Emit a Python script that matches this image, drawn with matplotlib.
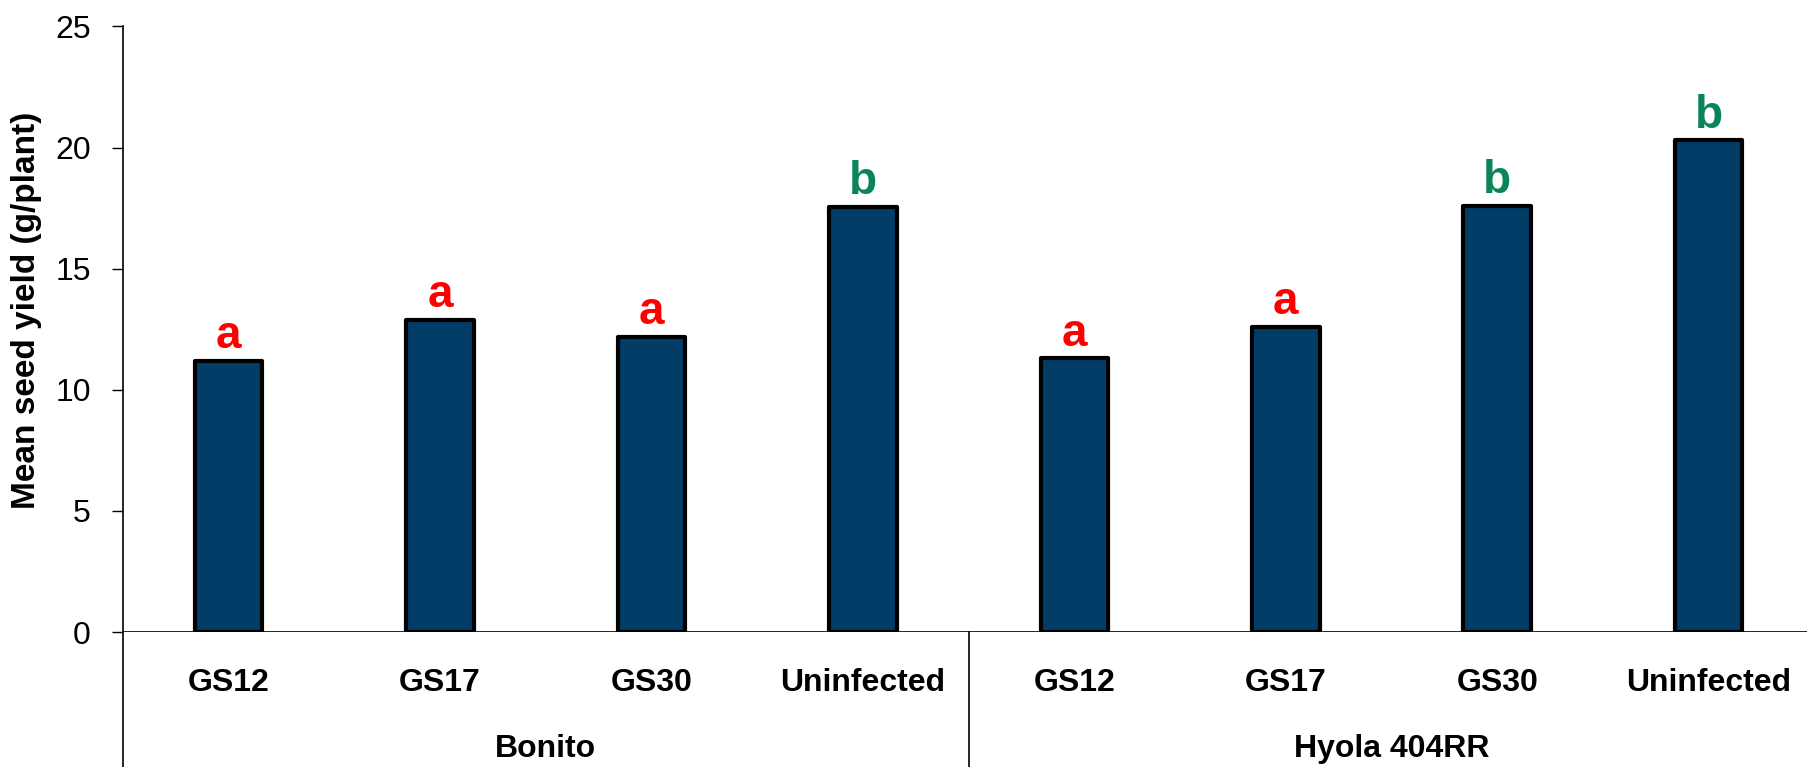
import matplotlib
matplotlib.use("Agg")
import matplotlib.pyplot as plt

# seed yield per treatment, two cultivars
cultivars = ["Bonito", "Hyola 404RR"]
treatments = ["GS12", "GS17", "GS30", "Uninfected"]
yield_bonito = [11.2, 12.9, 12.2, 17.55]
yield_hyola = [11.3, 12.6, 17.6, 20.3]
letters_bonito = ["a", "a", "a", "b"]
letters_hyola = ["a", "a", "b", "b"]

letter_colors = {"a": "#FF0000", "b": "#0B8457"}
bar_color = "#023D67"
narrow = ["Liberation Sans Narrow", "Liberation Sans", "DejaVu Sans"]

values = yield_bonito + yield_hyola
letters = letters_bonito + letters_hyola
labels = treatments * len(cultivars)
xs = list(range(len(values)))

fig = plt.figure(figsize=(18.08, 7.67), dpi=100)
ax = fig.add_axes([0.068, 0.176, 0.932, 0.7895])

bars = ax.bar(xs, values, width=0.32, color=bar_color, edgecolor="black",
              linewidth=3, joinstyle="round", zorder=3)

for x, v, l in zip(xs, values, letters):
    ax.annotate(l, (x, v), xytext=(0, 9), textcoords="offset points",
                ha="center", va="baseline", fontsize=33, fontweight="bold",
                color=letter_colors[l], family=narrow)

ax.set_xlim(-0.5, 7.47)
ax.set_ylim(0, 25)
ax.set_yticks([0, 5, 10, 15, 20, 25])
ax.tick_params(axis="y", direction="out", length=8, width=1, labelsize=23, pad=15)
for t in ax.get_yticklabels():
    t.set_family("Liberation Sans")
ax.set_xticks([])

for s in ["top", "right", "bottom", "left"]:
    ax.spines[s].set_visible(False)

# axis line runs down through the category label area
ax.plot([0, 0], [-0.225, 1], transform=ax.transAxes, color="black",
        linewidth=1.2, clip_on=False)
ax.axhline(0, color="black", linewidth=1.2, zorder=4)
# separator between cultivar groups
sep_x = len(treatments) - 0.5
ax.plot([sep_x, sep_x], [0, -0.225], color="black", linewidth=1.2,
        transform=ax.get_xaxis_transform(), clip_on=False)

for x, lab in zip(xs, labels):
    ax.text(x, -0.085, lab, transform=ax.get_xaxis_transform(), ha="center",
            va="center", fontsize=23, fontweight="bold", family=narrow)

for i, c in enumerate(cultivars):
    cx = i * len(treatments) + (len(treatments) - 1) / 2
    ax.text(cx, -0.193, c, transform=ax.get_xaxis_transform(), ha="center",
            va="center", fontsize=23, fontweight="bold", family=narrow)

ax.set_ylabel("Mean seed yield (g/plant)", fontsize=24, fontweight="bold",
              family=narrow)
ax.yaxis.set_label_coords(-0.048, 0.531)

fig.savefig("out.png", dpi=100)
